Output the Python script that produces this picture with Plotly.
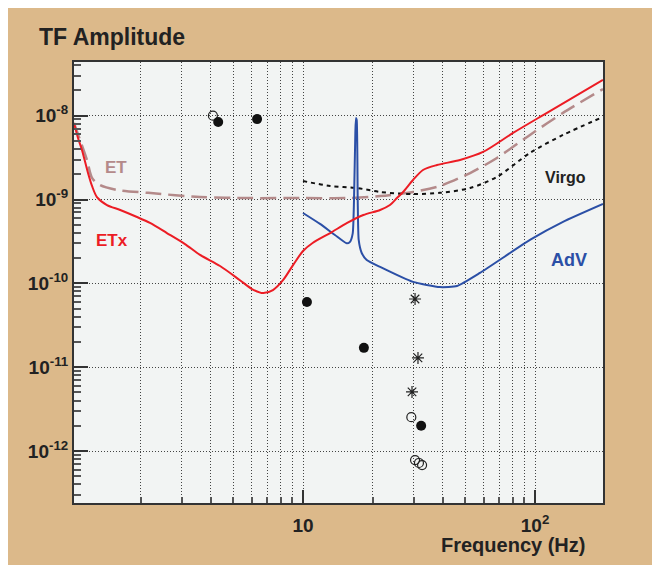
import plotly.graph_objects as go

# ---- data ----
etx_f = [1.03, 1.072, 1.115, 1.184, 1.232, 1.294, 1.429, 1.63, 1.925, 2.19, 2.59, 3.10, 3.60, 4.39, 5.35, 6.03,
         6.73, 7.42, 8.20, 9.06, 10.0, 11.0, 13.1, 15.5, 18.2, 21.5, 23.7, 25.4, 27.0, 29.8, 32.9, 37.8,
         47.5, 59.7, 80.4, 112.6, 196.3]
etx_a = [8.18e-9, 5.42e-9, 3.90e-9, 2.07e-9, 1.45e-9, 1.07e-9, 8.59e-10, 7.50e-10, 6.18e-10, 5.25e-10, 3.98e-10,
         2.94e-10, 2.18e-10, 1.61e-10, 1.09e-10, 8.55e-11, 7.66e-11, 8.32e-11, 1.09e-10, 1.65e-10, 2.43e-10,
         3.03e-10, 3.98e-10, 5.25e-10, 6.53e-10, 7.50e-10, 8.59e-10, 1.04e-9, 1.23e-9, 1.71e-9, 2.25e-9,
         2.58e-9, 2.96e-9, 3.69e-9, 6.22e-9, 1.08e-8, 2.67e-8]

et_f = [1.03, 1.094, 1.172, 1.232, 1.33, 1.58, 2.15, 3.60, 5.91, 10.0, 15.5, 21.5, 29.8, 38.9, 52.5, 68.5,
        95.1, 132.0, 196.3]
et_a = [8.18e-9, 5.13e-9, 2.96e-9, 1.81e-9, 1.49e-9, 1.30e-9, 1.20e-9, 1.07e-9, 1.04e-9, 1.04e-9, 1.04e-9,
        1.10e-9, 1.23e-9, 1.45e-9, 2.07e-9, 3.13e-9, 5.89e-9, 1.08e-8, 2.08e-8]

virgo_f = [10.0, 13.1, 17.1, 21.5, 29.8, 38.9, 52.5, 68.5, 95.1, 132.0, 196.3]
virgo_a = [1.66e-9, 1.45e-9, 1.37e-9, 1.23e-9, 1.16e-9, 1.20e-9, 1.37e-9, 1.86e-9, 3.59e-9, 5.89e-9, 9.65e-9]

adv_f = [10.0, 11.84, 13.73, 15.43, 15.94, 16.38, 16.59, 16.81, 16.92, 17.04, 17.21, 17.38, 17.91, 18.82,
         21.5, 29.8, 38.9, 46.1, 57.9, 95.1, 132.0, 196.3]
adv_a = [6.90e-10, 5.11e-10, 3.77e-10, 3.00e-10, 3.13e-10, 3.95e-10, 9.86e-10, 6.22e-9, 9.39e-9, 8.88e-9,
         9.86e-10, 3.29e-10, 2.30e-10, 1.90e-10, 1.57e-10, 1.04e-10, 9.03e-11, 9.28e-11, 1.33e-10, 3.29e-10,
         5.40e-10, 8.83e-10]

open_f = [4.09, 29.3, 30.4, 31.6, 32.6]
open_a = [1.0e-8, 2.53e-12, 7.8e-13, 7.2e-13, 6.8e-13]
filled_f = [4.31, 6.34, 10.4, 18.3, 32.3]
filled_a = [8.4e-9, 9.1e-9, 6.0e-11, 1.7e-11, 2.0e-12]
star_f = [30.4, 31.3, 29.5]
star_a = [6.5e-11, 1.29e-11, 5.07e-12]

x_major = [10, 100]
x_major_text = ["10", "10<sup>2</sup>"]
x_minor = [2, 3, 4, 5, 6, 7, 8, 9, 20, 30, 40, 50, 60, 70, 80, 90]
y_major = [1e-12, 1e-11, 1e-10, 1e-9, 1e-8]
y_major_text = ["10<sup>-12</sup>", "10<sup>-11</sup>", "10<sup>-10</sup>", "10<sup>-9</sup>", "10<sup>-8</sup>"]
y_minor = [m * 10.0 ** e for e in range(-13, -7) for m in range(2, 10)]

RED = "#ec1c24"
BLUE = "#2b4fa6"
ETC = "#b48a8a"
TAN = "#dcb98a"
FONT = "Liberation Sans"
GRID = "#444444"

fig = go.Figure()
fig.add_trace(go.Scatter(x=et_f, y=et_a, mode="lines",
                         line=dict(color=ETC, width=2.5, dash="16px,7px", shape="spline", smoothing=0.8)))
fig.add_trace(go.Scatter(x=virgo_f, y=virgo_a, mode="lines",
                         line=dict(color="#111111", width=2, dash="4px,4px", shape="spline", smoothing=0.8)))
fig.add_trace(go.Scatter(x=adv_f, y=adv_a, mode="lines",
                         line=dict(color=BLUE, width=2, shape="spline", smoothing=0.5)))
fig.add_trace(go.Scatter(x=etx_f, y=etx_a, mode="lines",
                         line=dict(color=RED, width=2, shape="spline", smoothing=0.8)))
fig.add_trace(go.Scatter(x=open_f, y=open_a, mode="markers",
                         marker=dict(symbol="circle-open", size=9, color="#222222", line=dict(width=1.2))))
fig.add_trace(go.Scatter(x=filled_f, y=filled_a, mode="markers",
                         marker=dict(symbol="circle", size=10, color="#111111")))
fig.add_trace(go.Scatter(x=star_f, y=star_a, mode="markers",
                         marker=dict(symbol="asterisk-open", size=10, color="#222222",
                                     line=dict(width=1.2, color="#222222"))))

fig.update_layout(
    width=652, height=557,
    margin=dict(l=66, r=57, t=54, b=62),
    paper_bgcolor=TAN, plot_bgcolor="#f2f4f3",
    showlegend=False,
    font=dict(family=FONT, color="#222222"),
    xaxis=dict(type="log", range=[0.013, 2.293], tickvals=x_major, ticktext=x_major_text,
               ticks="inside", ticklen=13, tickwidth=1.5, tickcolor="#333333",
               showgrid=True, gridcolor=GRID, griddash="1px,2px", gridwidth=1,
               showline=True, linecolor="#333333", linewidth=2, mirror=True,
               tickfont=dict(family=FONT, size=19, weight="bold", color="#222222"),
               ticklabelstandoff=4, zeroline=False,
               minor=dict(tickvals=x_minor, ticks="inside", ticklen=6, tickcolor="#555555",
                          showgrid=True, gridcolor=GRID, griddash="1px,2px", gridwidth=1)),
    yaxis=dict(type="log", range=[-12.62, -7.36], tickvals=y_major, ticktext=y_major_text,
               ticks="inside", ticklen=14, tickwidth=1.5, tickcolor="#333333",
               showgrid=True, gridcolor=GRID, griddash="1px,2px", gridwidth=1,
               showline=True, linecolor="#333333", linewidth=2, mirror=True,
               tickfont=dict(family=FONT, size=19, weight="bold", color="#222222"),
               zeroline=False,
               minor=dict(tickvals=y_minor, ticks="inside", ticklen=7, tickcolor="#555555", showgrid=False)),
)


def note(text, x, y, color, size, xanchor="center"):
    fig.add_annotation(text=text, x=x, y=y, xref="paper", yref="paper", showarrow=False,
                       xanchor=xanchor, yanchor="middle",
                       font=dict(family=FONT, size=size, color=color, weight="bold"))


note("TF Amplitude", -0.069, 1.056, "#222222", 23, xanchor="left")
note("Frequency (Hz)", 0.970, -0.095, "#222222", 20, xanchor="right")
note("ET", 0.0787, 0.76, ETC, 17)
note("ETx", 0.071, 0.596, RED, 17)
note("Virgo", 0.930, 0.739, "#222222", 16)
note("AdV", 0.935, 0.551, BLUE, 18)

fig.write_html("out.html")
